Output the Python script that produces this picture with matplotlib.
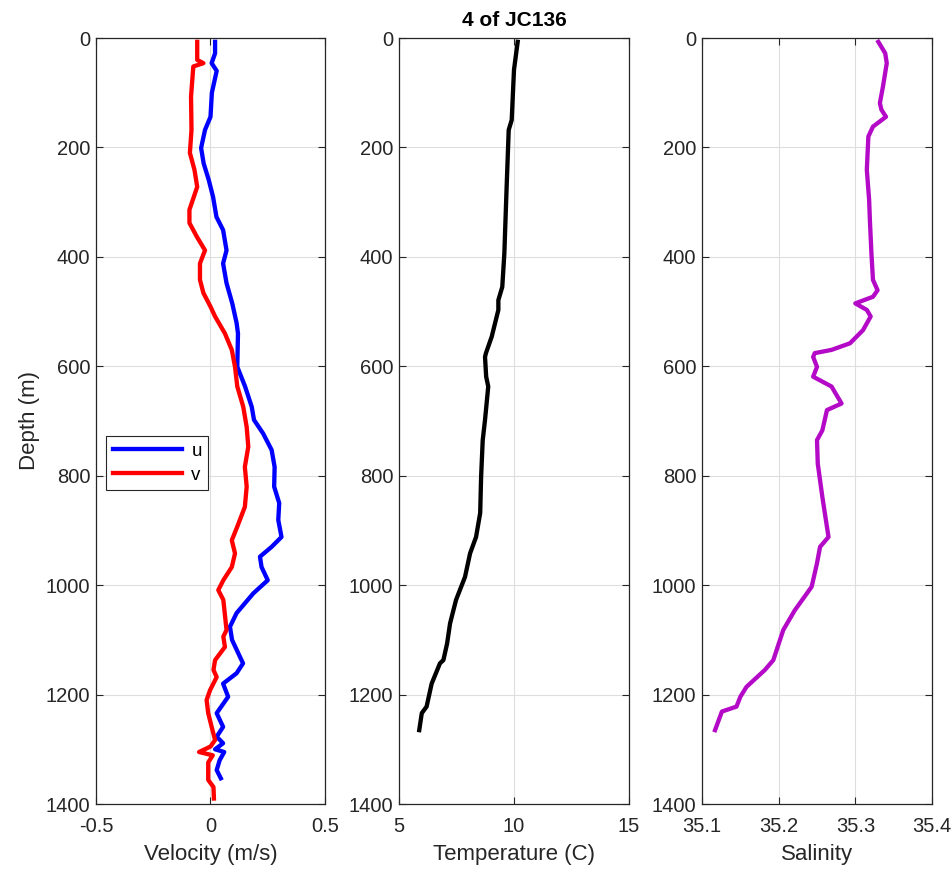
import matplotlib
matplotlib.use("Agg")
import matplotlib.pyplot as plt

plt.rcParams['font.family'] = ['Liberation Sans', 'DejaVu Sans']

# velocity profiles (m/s) vs depth (m)
u_depth = [7, 28, 46, 60, 100, 144, 168, 201, 229, 259, 290, 327, 351, 388, 412, 448, 485,
           521, 540, 601, 637, 674, 698, 723, 753, 784, 820, 850, 881, 912, 930, 948, 967,
           991, 1015, 1051, 1076, 1100, 1143, 1161, 1180, 1204, 1234, 1259, 1277, 1289,
           1300, 1305, 1320, 1338, 1353]
u_vel = [0.02, 0.02, 0.005, 0.027, 0.006, 0.0, -0.024, -0.041, -0.03, -0.008, 0.011, 0.026,
         0.055, 0.07, 0.055, 0.07, 0.095, 0.114, 0.12, 0.117, 0.151, 0.18, 0.19, 0.23, 0.267,
         0.28, 0.278, 0.30, 0.296, 0.31, 0.267, 0.216, 0.223, 0.25, 0.187, 0.114, 0.085,
         0.094, 0.142, 0.114, 0.055, 0.077, 0.027, 0.055, 0.027, 0.055, 0.02, 0.06, 0.04,
         0.027, 0.045]

v_depth = [7, 40, 46, 52, 107, 168, 210, 241, 272, 314, 338, 363, 388, 412, 442, 466, 491,
           509, 540, 570, 601, 637, 674, 711, 747, 784, 820, 857, 893, 918, 942, 967, 991,
           1009, 1027, 1082, 1094, 1113, 1137, 1155, 1168, 1192, 1210, 1234, 1259, 1283,
           1295, 1305, 1311, 1324, 1356, 1369, 1390]
v_vel = [-0.058, -0.058, -0.031, -0.075, -0.085, -0.083, -0.09, -0.07, -0.058, -0.092,
         -0.092, -0.06, -0.024, -0.046, -0.046, -0.031, 0.0, 0.02, 0.063, 0.093, 0.107,
         0.117, 0.143, 0.158, 0.165, 0.15, 0.158, 0.15, 0.117, 0.093, 0.107, 0.093, 0.056,
         0.034, 0.056, 0.07, 0.056, 0.063, 0.02, 0.013, 0.027, -0.002, -0.017, -0.01,
         0.005, 0.02, 0.0, -0.05, 0.01, -0.01, -0.01, 0.013, 0.015]

# temperature (C)
t_depth = [7, 58, 150, 168, 272, 394, 455, 479, 497, 546, 576, 583, 619, 637, 698, 735,
           802, 868, 912, 942, 985, 1027, 1070, 1107, 1137, 1143, 1180, 1222, 1234, 1265]
temp = [10.16, 10.0, 9.9, 9.77, 9.68, 9.58, 9.49, 9.32, 9.32, 9.03, 8.78, 8.74, 8.79, 8.88,
        8.74, 8.64, 8.57, 8.53, 8.35, 8.09, 7.87, 7.48, 7.22, 7.09, 6.93, 6.78, 6.42, 6.2,
        5.99, 5.88]

# salinity
s_depth = [7, 28, 46, 89, 119, 131, 144, 162, 180, 241, 296, 333, 394, 442, 461, 473, 485,
           497, 509, 534, 558, 570, 576, 583, 601, 619, 637, 649, 668, 680, 717, 735, 778,
           839, 912, 930, 960, 1003, 1046, 1082, 1137, 1155, 1186, 1204, 1222, 1231, 1265]
sal = [35.33, 35.339, 35.341, 35.336, 35.332, 35.334, 35.34, 35.323, 35.317, 35.315,
       35.318, 35.319, 35.321, 35.323, 35.329, 35.323, 35.300, 35.315, 35.32, 35.31, 35.293,
       35.269, 35.247, 35.245, 35.25, 35.245, 35.269, 35.274, 35.282, 35.263, 35.257,
       35.25, 35.251, 35.257, 35.265, 35.254, 35.25, 35.243, 35.221, 35.206, 35.193,
       35.182, 35.158, 35.15, 35.145, 35.126, 35.117]

depth_ticks = [0, 200, 400, 600, 800, 1000, 1200, 1400]
fc = '#262626'

fig = plt.figure(figsize=(9.53, 8.75), dpi=100)
W, H = 953.0, 875.0
bot = (H - 804) / H
hgt = (804 - 38) / H
ax1 = fig.add_axes([96 / W, bot, 229 / W, hgt])
ax2 = fig.add_axes([399 / W, bot, 230 / W, hgt])
ax3 = fig.add_axes([702 / W, bot, 230 / W, hgt])

for ax in (ax1, ax2, ax3):
    ax.set_ylim(1400, 0)
    ax.set_yticks(depth_ticks)
    ax.grid(True, color='#dedede', linewidth=0.8)
    ax.set_axisbelow(True)
    ax.tick_params(direction='in', top=True, right=True, labelsize=14.5, colors=fc,
                   length=5, width=0.8)
    ax.tick_params(axis='x', pad=9)
    ax.tick_params(axis='y', pad=4)
    for sp in ax.spines.values():
        sp.set_color(fc)
        sp.set_linewidth(0.9)

ax1.plot(u_vel, u_depth, color='#0000ff', lw=3.1, label='u')
ax1.plot(v_vel, v_depth, color='#ff0000', lw=3.1, label='v')
ax1.set_xlim(-0.5, 0.5)
ax1.set_xticks([-0.5, 0, 0.5])
ax1.set_xticklabels(['-0.5', '0', '0.5'])
ax1.set_xlabel('Velocity (m/s)', fontsize=16, color=fc, labelpad=6)
ax1.set_ylabel('Depth (m)', fontsize=16, color=fc, labelpad=4)
leg = ax1.legend(loc='upper left', bbox_to_anchor=(0.044, 0.48), fontsize=13.5,
                 fancybox=False, framealpha=1, edgecolor=fc, handlelength=3.7,
                 borderaxespad=0, labelspacing=0.35, handletextpad=0.5,
                 borderpad=0.35)
leg.get_frame().set_linewidth(0.8)

ax2.plot(temp, t_depth, color='black', lw=3.1)
ax2.set_xlim(5, 15)
ax2.set_xticks([5, 10, 15])
ax2.set_xlabel('Temperature (C)', fontsize=16, color=fc, labelpad=6)
ax2.set_title('4 of JC136', fontsize=15, fontweight='bold', color='black', pad=9)

ax3.plot(sal, s_depth, color='#b40ac8', lw=3.1)
ax3.set_xlim(35.1, 35.4)
ax3.set_xticks([35.1, 35.2, 35.3, 35.4])
ax3.set_xticklabels(['35.1', '35.2', '35.3', '35.4'])
ax3.set_xlabel('Salinity', fontsize=16, color=fc, labelpad=6)

fig.savefig('out.png', dpi=100)
